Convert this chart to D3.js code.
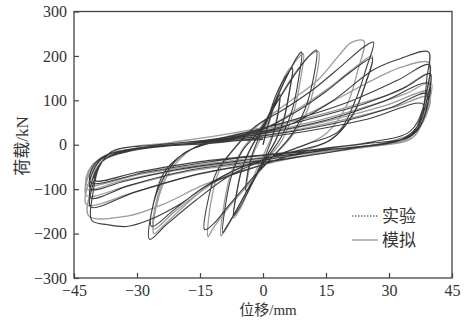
<!DOCTYPE html>
<html lang="zh">
<head>
<meta charset="UTF-8">
<title>荷载-位移滞回曲线</title>
<script src="https://d3js.org/d3.v7.min.js"></script>
<style>
  body { margin: 0; background: #fff; }
  svg text { font-family: "Liberation Serif", "Noto Sans CJK SC", serif; fill: #333; }
</style>
</head>
<body>
<svg id="chart" width="465" height="327"></svg>
<script>
// axis ticks
const xTicks = [-45, -30, -15, 0, 15, 30, 45];
const yTicks = [-300, -200, -100, 0, 100, 200, 300];

// experiment: displacement (mm), load (kN), cycle by cycle
const expPoints = [
  // ±4
  [0,0],[1.5,55],[3,95],[4,112],[3.6,70],[2.5,25],[1,-15],[-1,-55],[-2.8,-90],[-4,-103],[-3.6,-60],[-2.5,-20],[-1,15],
  // ±7
  [1,55],[3,110],[5.5,155],[7,172],[6.3,120],[5,60],[3,10],[0,-40],[-3,-95],[-5.5,-140],[-7,-160],[-6.3,-110],[-5,-55],[-3,-10],
  // ±10
  [0,40],[3,100],[6,160],[8.3,200],[9.2,209],[8.5,150],[7,80],[4.5,20],[1,-30],[-3,-90],[-6.5,-150],[-9,-190],[-9.6,-198],[-9,-140],[-7.5,-70],[-5,-15],
  // ±13
  [-1,30],[3,90],[7,150],[10.5,195],[12.7,213],[12,150],[10,80],[7,25],[2,-30],[-3,-80],[-8,-135],[-12,-180],[-13.9,-191],[-13.2,-130],[-11,-60],[-7,-10],
  // ±26
  [-2,40],[5,80],[12,125],[19,180],[24,220],[26.3,231],[24.5,170],[22,100],[18,30],[10,0],[0,-35],[-8,-70],[-16,-125],[-23,-180],[-27,-213],[-26.5,-150],[-24,-80],[-19,-20],[-10,10],
  // ±26 repeat
  [0,35],[8,75],[15,120],[21,165],[26,195],[24.5,140],[21.5,70],[16,10],[5,-20],[-5,-50],[-14,-95],[-21,-145],[-26.5,-184],[-25.8,-120],[-23,-55],[-16,-5],[-5,20],
  // ±40
  [5,40],[16,95],[26.5,170],[33,195],[39.4,209],[39,150],[38,80],[35,30],[25,5],[10,-15],[0,-45],[-12,-85],[-20,-135],[-27,-169],[-32.5,-184],[-37,-180],[-40.8,-170],[-40.5,-110],[-39,-50],[-36,-15],[-25,0],
  // ±40 repeats
  [-10,15],[5,50],[20,95],[32,145],[39.5,180],[39,120],[37.5,60],[35,20],[20,-10],[0,-40],[-15,-65],[-30,-105],[-41,-140],[-40.5,-90],[-38.5,-40],[-34,-15],[-20,0],
  [-5,20],[10,55],[25,95],[34,130],[39.8,160],[39,100],[37,45],[33,12],[15,-12],[0,-35],[-18,-58],[-32,-92],[-41,-120],[-40.5,-75],[-38,-35],[-32,-15],[-15,5],
  [0,25],[15,55],[28,95],[39.5,138],[39,85],[37,35],[32,8],[15,-12],[0,-30],[-20,-55],[-33,-82],[-41,-100],[-40.5,-60],[-37.5,-25],[-30,-8],[-15,5],
  [0,20],[18,50],[30,82],[39,115],[38.5,65],[36,25],[30,5],[10,-15],[-10,-35],[-28,-62],[-41,-85],[-40.5,-50],[-37,-22],[-25,-5],
  [-10,5],[10,30],[25,58],[38,92],[37.5,50],[35,18],[25,3],[5,-18],[-15,-38],[-30,-62],[-40,-80],[-39,-45],[-35,-20],[-20,0],[0,12]
];

// simulation
const simPoints = [
  [0,0],[1.5,50],[3,95],[4,115],[3.5,70],[2.3,25],[0.5,-15],[-1.5,-55],[-3,-90],[-4,-105],[-3.5,-65],[-2.3,-20],[-0.5,15],
  [1.5,60],[3.5,115],[5.5,160],[7,175],[6.2,115],[4.8,50],[2.5,0],[-0.5,-45],[-3.5,-105],[-5.5,-145],[-7,-165],[-6.2,-105],[-4.8,-45],[-2.5,0],
  [0.5,45],[3.5,110],[6.5,170],[8.8,200],[9.6,205],[8.8,140],[7.2,70],[4.5,10],[0.5,-40],[-3.5,-100],[-7,-160],[-9.4,-198],[-10,-205],[-9.2,-130],[-7.5,-60],[-4.5,-5],
  [-0.5,40],[3.5,100],[7.5,160],[11,200],[13.2,210],[12.4,140],[10.2,70],[6.5,15],[1.5,-35],[-3.5,-90],[-8.5,-145],[-12,-190],[-13.1,-207],[-12.5,-135],[-10.5,-60],[-6.5,-5],
  [-1,45],[6,95],[13,145],[18,200],[21,230],[24,234],[22.5,165],[20,90],[15,25],[6,-15],[-4,-45],[-12,-85],[-19,-140],[-24,-185],[-26,-200],[-25.3,-135],[-22.5,-65],[-17,-10],[-8,20],
  [1,40],[9,85],[16,130],[22,175],[26,200],[24.3,135],[21,60],[15,5],[4,-25],[-6,-55],[-14,-100],[-21,-150],[-26,-190],[-25.2,-120],[-22,-50],[-15,0],[-4,25],
  [6,50],[17,100],[27,150],[33,175],[39.5,185],[39.3,130],[38.5,70],[35.6,16],[25,-5],[10,-25],[-2,-50],[-14,-90],[-24,-135],[-32,-160],[-41.5,-160],[-41,-100],[-39.5,-45],[-35,-12],[-22,5],
  [-8,25],[8,55],[22,90],[32,120],[39.8,160],[39.2,105],[38,55],[35.6,16],[20,-10],[2,-38],[-16,-68],[-31,-108],[-42,-135],[-41.5,-85],[-39,-38],[-33,-13],[-18,5],
  [-3,22],[12,52],[26,90],[34,115],[40,140],[39.4,90],[37.5,42],[34,12],[16,-15],[0,-38],[-19,-62],[-33,-95],[-42,-115],[-41.5,-70],[-38.5,-32],[-31,-10],[-14,8],
  [2,28],[16,55],[29,88],[39.6,120],[39,78],[37,35],[32,8],[14,-15],[-2,-35],[-21,-58],[-34,-82],[-42,-100],[-41.3,-58],[-37.5,-24],[-28,-6],[-12,10],
  [3,25],[20,58],[31,84],[39.6,108],[38.8,65],[36,28],[29,5],[9,-20],[-11,-40],[-29,-66],[-42,-90],[-41,-50],[-36.5,-20],[-22,0],[0,15]
];

const legendLabels = ["实验", "模拟"];

const svg = d3.select("#chart");
const margin = { top: 11.5, right: 13, bottom: 49, left: 74 };
const W = 465, H = 327;

const x = d3.scaleLinear().domain([-45, 45]).range([margin.left, W - margin.right]);
const y = d3.scaleLinear().domain([-300, 300]).range([H - margin.bottom, margin.top]);

const line = d3.line()
  .x(d => x(d[0]))
  .y(d => y(d[1]))
  .curve(d3.curveCatmullRom.alpha(0.5));

const plot = svg.append("g");

plot.append("path")
  .datum(simPoints)
  .attr("d", line)
  .attr("fill", "none")
  .attr("stroke", "#9c9c9c")
  .attr("stroke-width", 1.3);

plot.append("path")
  .datum(expPoints)
  .attr("d", line)
  .attr("fill", "none")
  .attr("stroke", "#2a2a2a")
  .attr("stroke-width", 1.1)
  .attr("stroke-opacity", 0.9);

// axes with inward ticks
const fmt = d => d < 0 ? "\u2212" + Math.abs(d) : d;
const xAxis = svg.append("g")
  .attr("transform", `translate(0,${H - margin.bottom})`)
  .call(d3.axisBottom(x).tickValues(xTicks).tickSize(-5).tickPadding(7).tickFormat(fmt));
const yAxis = svg.append("g")
  .attr("transform", `translate(${margin.left},0)`)
  .call(d3.axisLeft(y).tickValues(yTicks).tickSize(-5).tickPadding(7).tickFormat(fmt));

[xAxis, yAxis].forEach(g => {
  g.select(".domain").remove();
  g.selectAll(".tick line").attr("stroke", "#444").attr("stroke-width", 1.2);
  g.selectAll(".tick text").attr("font-size", 16).attr("fill", "#333")
    .style("font-family", "'Liberation Serif', serif");
});

// frame
svg.append("rect")
  .attr("x", margin.left).attr("y", margin.top)
  .attr("width", W - margin.left - margin.right)
  .attr("height", H - margin.top - margin.bottom)
  .attr("fill", "none").attr("stroke", "#444").attr("stroke-width", 1.3);

// axis titles
svg.append("text")
  .attr("x", 268).attr("y", 315)
  .attr("text-anchor", "middle")
  .attr("font-size", 15)
  .text("位移/mm");

svg.append("text")
  .attr("transform", "translate(28,146) rotate(-90)")
  .attr("text-anchor", "middle")
  .attr("font-size", 17)
  .text("荷载/kN");

// legend
const legend = svg.append("g");
legendLabels.forEach((lab, i) => {
  const ly = 216 + i * 24;
  legend.append("line")
    .attr("x1", 352).attr("x2", 378).attr("y1", ly).attr("y2", ly)
    .attr("stroke", i === 0 ? "#333" : "#9c9c9c")
    .attr("stroke-width", i === 0 ? 1.2 : 1.4)
    .attr("stroke-dasharray", i === 0 ? "1.5,1.5" : null);
  legend.append("text")
    .attr("x", 382).attr("y", ly)
    .attr("dy", "0.35em")
    .attr("font-size", 17)
    .text(lab);
});
</script>
</body>
</html>
